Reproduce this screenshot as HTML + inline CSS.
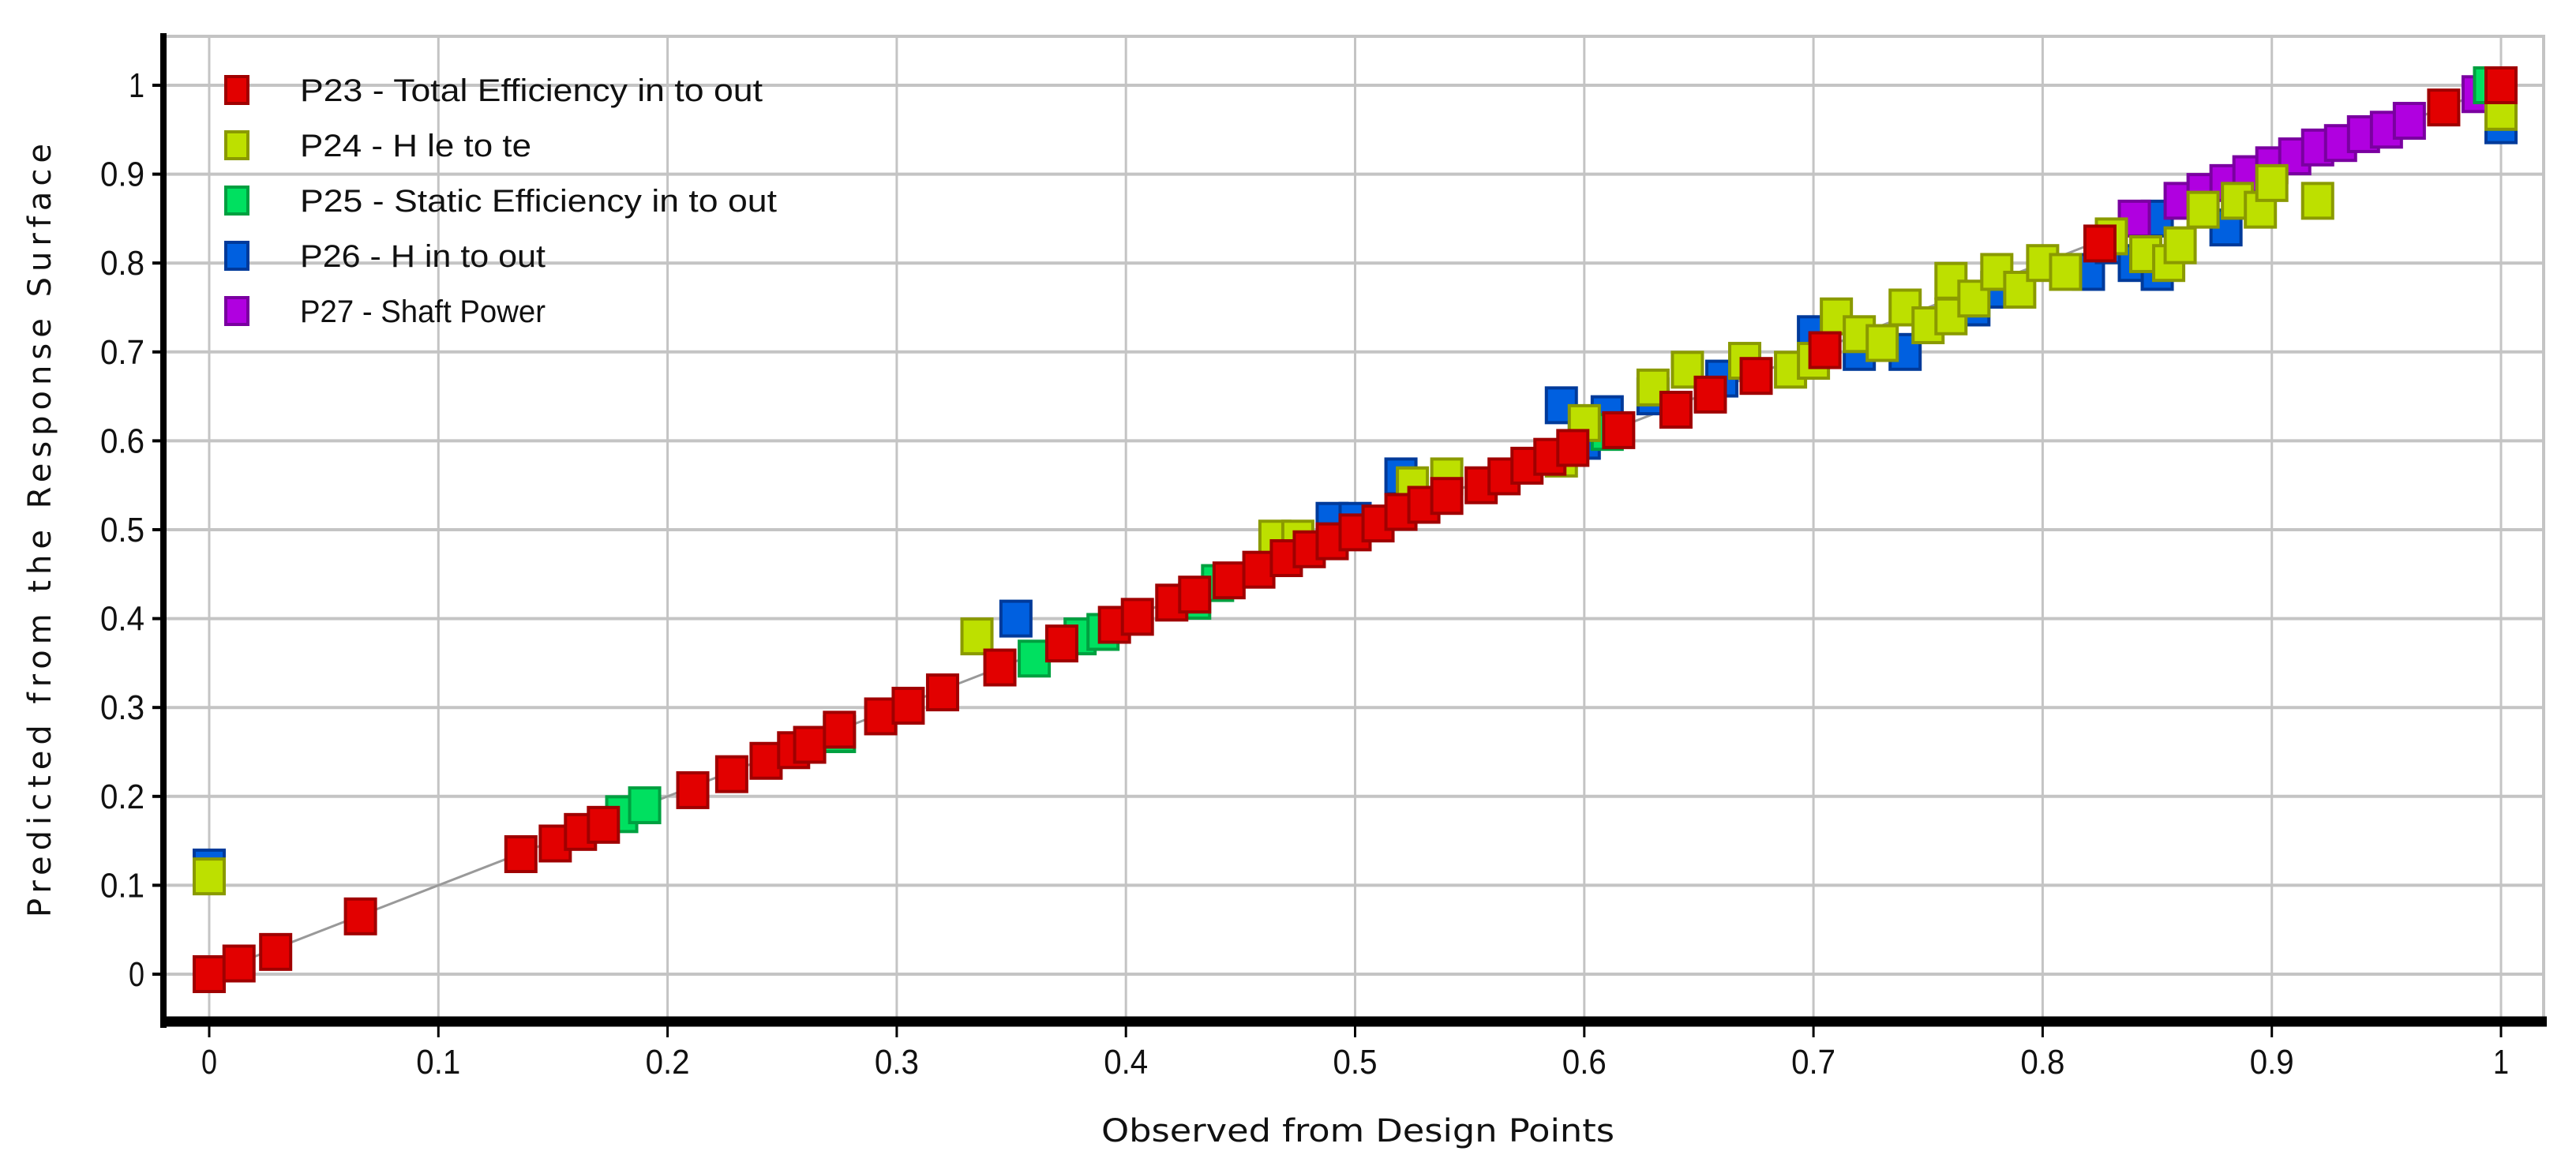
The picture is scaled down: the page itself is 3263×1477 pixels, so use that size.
<!DOCTYPE html>
<html><head><meta charset="utf-8"><style>
html,body{margin:0;padding:0;background:#fff;}
svg{display:block;font-family:"Liberation Sans","DejaVu Sans",sans-serif;}
</style></head><body>
<svg id="chart" width="3263" height="1477" viewBox="0 0 3263 1477" xmlns="http://www.w3.org/2000/svg">
<rect x="0" y="0" width="3263" height="1477" fill="#fff"/>
<g id="grid"></g>
<g id="axes"></g>
<g id="marks"></g>
<g id="legend"></g>
<text x="1720" y="1446" font-size="40" font-family="DejaVu Sans, sans-serif" text-anchor="middle" textLength="650" lengthAdjust="spacingAndGlyphs" fill="#111">Observed from Design Points</text>
<text transform="translate(64,672) rotate(-90)" font-size="40" font-family="DejaVu Sans, sans-serif" text-anchor="middle" textLength="980" lengthAdjust="spacing" fill="#111">Predicted from the Response Surface</text>
</svg>
<script>
const xTicks=[0,0.1,0.2,0.3,0.4,0.5,0.6,0.7,0.8,0.9,1];
const yTicks=[0,0.1,0.2,0.3,0.4,0.5,0.6,0.7,0.8,0.9,1];
const xTickLabels=["0","0.1","0.2","0.3","0.4","0.5","0.6","0.7","0.8","0.9","1"];
const yTickLabels=["0","0.1","0.2","0.3","0.4","0.5","0.6","0.7","0.8","0.9","1"];
const seriesNames=["P23 - Total Efficiency in to out","P24 - H le to te","P25 - Static Efficiency in to out","P26 - H in to out","P27 - Shaft Power"];
const p23x=[0,0.013,0.029,0.066,0.136,0.151,0.162,0.172,0.211,0.228,0.243,0.255,0.262,0.275,0.293,0.305,0.32,0.345,0.372,0.395,0.405,0.42,0.43,0.445,0.458,0.47,0.48,0.49,0.5,0.51,0.52,0.53,0.54,0.555,0.565,0.575,0.585,0.595,0.615,0.64,0.655,0.675,0.705,0.825,0.975,1.0];
const p23y=[0,0.012,0.025,0.065,0.135,0.147,0.16,0.168,0.207,0.225,0.24,0.252,0.258,0.275,0.29,0.302,0.317,0.345,0.372,0.393,0.402,0.418,0.427,0.443,0.455,0.468,0.478,0.487,0.497,0.507,0.52,0.528,0.538,0.55,0.56,0.572,0.582,0.592,0.612,0.635,0.652,0.673,0.702,0.822,0.975,1.0];
const p24x=[0,0.335,0.465,0.475,0.525,0.54,0.59,0.6,0.63,0.645,0.67,0.69,0.7,0.71,0.72,0.73,0.74,0.75,0.76,0.76,0.77,0.78,0.79,0.8,0.81,0.83,0.845,0.855,0.86,0.87,0.885,0.895,0.9,0.92,1.0];
const p24y=[0.11,0.38,0.49,0.49,0.55,0.56,0.58,0.62,0.66,0.68,0.69,0.68,0.69,0.74,0.72,0.71,0.75,0.73,0.78,0.74,0.76,0.79,0.77,0.8,0.79,0.83,0.81,0.8,0.82,0.86,0.87,0.86,0.89,0.87,0.97];
const p25x=[0.18,0.19,0.275,0.36,0.38,0.39,0.43,0.44,0.61,0.995,1.0];
const p25y=[0.18,0.19,0.27,0.355,0.38,0.385,0.42,0.44,0.61,1.0,1.0];
const p26x=[0,0.352,0.49,0.5,0.52,0.59,0.6,0.61,0.63,0.66,0.7,0.72,0.74,0.77,0.78,0.82,0.83,0.84,0.85,0.85,0.88,1.0];
const p26y=[0.12,0.4,0.51,0.51,0.56,0.64,0.6,0.63,0.65,0.67,0.72,0.7,0.7,0.75,0.77,0.79,0.82,0.8,0.79,0.85,0.84,0.955];
const p27x=[0.84,0.86,0.87,0.88,0.89,0.9,0.91,0.92,0.93,0.94,0.95,0.96,0.99];
const p27y=[0.85,0.87,0.88,0.89,0.9,0.91,0.92,0.93,0.935,0.945,0.95,0.96,0.99];

const NS="http://www.w3.org/2000/svg";
const X0=265,X1=3168,Y0=1234,Y1=108;
const L=207,R=3222,T=46,B=1294;
function sx(v){return X0+(X1-X0)*v;}
function sy(v){return Y0-(Y0-Y1)*v;}
function mk(tag,attrs,parent){const e=document.createElementNS(NS,tag);for(const k in attrs)e.setAttribute(k,attrs[k]);parent.appendChild(e);return e;}
const grid=document.getElementById('grid'),axes=document.getElementById('axes'),marks=document.getElementById('marks'),legend=document.getElementById('legend');
mk('rect',{x:L,y:T,width:R-L,height:B-T,fill:'none',stroke:'#c4c4c4','stroke-width':4},grid);
xTicks.forEach((v,i)=>{
  const l=mk('line',{x1:sx(v),x2:sx(v),y1:T,y2:B,stroke:'#c4c4c4','stroke-width':3},grid);
  
  
  mk('line',{x1:sx(v),x2:sx(v),y1:B,y2:B+20,stroke:'#000','stroke-width':3},axes);
  const t=mk('text',{x:sx(v),y:1360,'font-size':44,'text-anchor':'middle',fill:'#111',textLength:xTickLabels[i].length>1?56:20,lengthAdjust:'spacingAndGlyphs'},axes);
  t.textContent=xTickLabels[i];
  
  
});
yTicks.forEach((v,i)=>{
  const l=mk('line',{x1:L,x2:R,y1:sy(v),y2:sy(v),stroke:'#c4c4c4','stroke-width':4},grid);
  
  
  mk('line',{x1:L-14,x2:L,y1:sy(v),y2:sy(v),stroke:'#000','stroke-width':4},axes);
  const t=mk('text',{x:L-24,y:sy(v)+15,'font-size':44,'text-anchor':'end',fill:'#111',textLength:yTickLabels[i].length>1?56:20,lengthAdjust:'spacingAndGlyphs'},axes);
  t.textContent=yTickLabels[i];
  
  
});
const ya=mk('line',{x1:L,x2:L,y1:T-4,y2:B+8,stroke:'#000','stroke-width':8},axes);


const xa=mk('line',{x1:L,x2:R+4,y1:B,y2:B,stroke:'#000','stroke-width':13},axes);


const ref=mk('line',{x1:sx(0),y1:sy(0),x2:sx(1),y2:sy(1),stroke:'#999','stroke-width':3},marks);


const styles=[['#e20000','#a00000'],['#bde000','#8a9a00'],['#00e060','#00a040'],['#0060e0','#003a9a'],['#b000e0','#7a00a0']];
const seriesData=[[p26x,p26y,3],[p27x,p27y,4],[p25x,p25y,2],[p24x,p24y,1],[p23x,p23y,0]];
const W=38,H=44;
seriesData.forEach(([xs,ys,si])=>{
  xs.forEach((v,i)=>{
    const r=mk('rect',{x:sx(v)-W/2,y:sy(ys[i])-H/2,width:W,height:H,fill:styles[si][0],stroke:styles[si][1],'stroke-width':4},marks);
    
    
  });
});
seriesNames.forEach((n,i)=>{
  const cy=114+i*70;
  const r=mk('rect',{x:286,y:cy-17,width:28,height:34,fill:styles[i][0],stroke:styles[i][1],'stroke-width':4},legend);
  
  
  const t=mk('text',{x:380,y:cy+14,'font-size':40,fill:'#111',textLength:Math.round(n.length*18.3),lengthAdjust:'spacingAndGlyphs'},legend);
  t.textContent=n;
  
  
});
</script>
</body></html>
